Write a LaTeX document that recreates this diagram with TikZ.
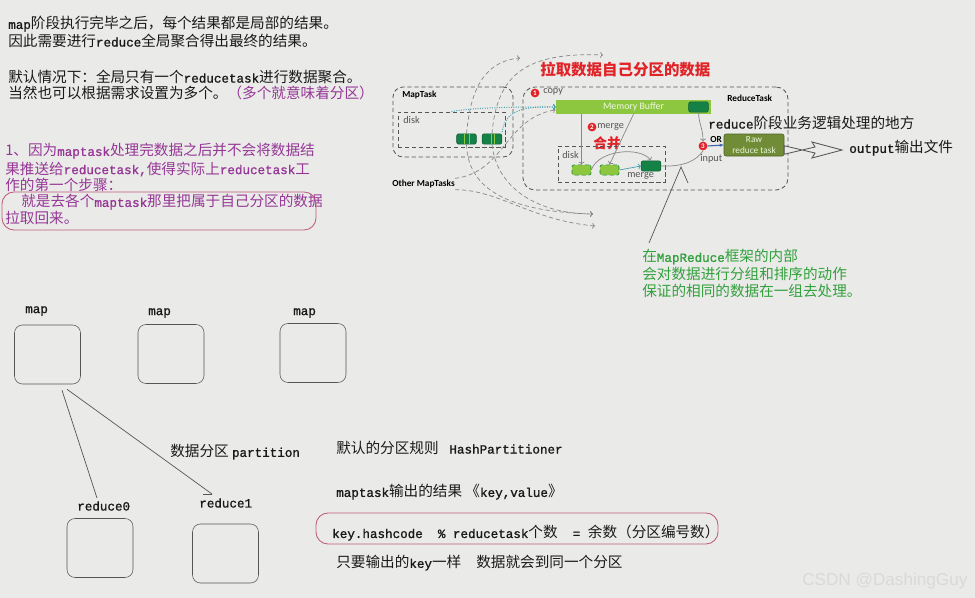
\documentclass[tikz,border=0pt]{standalone}
\usepackage{fontspec}
\setmainfont{Noto Sans CJK SC}
\setmonofont{Liberation Mono}[Scale=0.86, FakeBold=1.2]
\newfontfamily\figfont{Carlito}
\newfontfamily\markfont{Liberation Sans}
\usetikzlibrary{arrows.meta}
\definecolor{bgcol}{RGB}{234,235,233}
\definecolor{inkcol}{RGB}{25,25,25}
\definecolor{purp}{RGB}{150,55,150}
\definecolor{loopcol}{RGB}{190,90,125}
\definecolor{redcol}{RGB}{225,35,40}
\definecolor{greentxt}{RGB}{50,160,60}
\definecolor{lightgreen}{RGB}{141,198,63}
\definecolor{darkgreen}{RGB}{20,130,70}
\definecolor{olive}{RGB}{112,140,55}
\definecolor{boxgray}{RGB}{85,85,85}
\definecolor{curvegray}{RGB}{135,135,135}
\definecolor{tealcol}{RGB}{70,160,180}
\definecolor{bluecol}{RGB}{60,100,170}
\newcommand{\tword}[1]{{\ttfamily #1}}
\begin{document}
\begin{tikzpicture}[x=0.25mm,y=-0.25mm]
    \tikzset{txt/.style = {anchor=west, inner sep=0pt, text=inkcol, font=\fontsize{10.4}{13}\selectfont}}
    \tikzset{ptxt/.style = {txt, text=purp}}
    \tikzset{gtxt/.style = {txt, text=greentxt}}
    \tikzset{small/.style = {anchor=west, inner sep=0pt, text=boxgray, font=\figfont\fontsize{7.3}{8}\selectfont}}
    \tikzset{bsmall/.style = {small, text=black, font=\figfont\fontsize{6.6}{8}\selectfont\bfseries}}
    \tikzset{dbox/.style = {draw=boxgray, densely dashed, line width=0.6pt, inner sep=0pt}}
    \tikzset{mapbox/.style = {draw=boxgray, rounded corners=2mm, inner sep=0pt, minimum width=16.5mm, minimum height=14.75mm}}
    \tikzset{darkblk/.style = {draw=darkgreen!70!black, fill=darkgreen, rounded corners=0.5mm, inner sep=0pt, minimum width=4.9mm, minimum height=2.6mm}}
    \tikzset{lightblk/.style = {draw=darkgreen, densely dashed, fill=lightgreen, rounded corners=0.5mm, inner sep=0pt, minimum width=4.75mm, minimum height=2.6mm}}
    \tikzset{badge/.style = {circle, fill=redcol, text=white, inner sep=0pt, minimum size=2.2mm, font=\figfont\fontsize{5}{5}\selectfont\bfseries}}
    \tikzset{pull/.style = {densely dashed, curvegray, line width=0.5pt, -{To[length=2pt]}}}
    \tikzset{tealpull/.style = {densely dotted, tealcol, line width=0.7pt, -{To[length=2pt]}}}
    \tikzset{inner/.style = {curvegray, line width=0.5pt, -{To[length=2pt]}}}
    \tikzset{thinline/.style = {draw=boxgray, line width=0.5pt}}
    % background
    \fill[bgcol] (0,0) rectangle (975,598);
    \useasboundingbox (0,0) rectangle (975,598);
    % notes top left
    \node[txt] (t1) at (8,24) {\tword{map}阶段执行完毕之后，每个结果都是局部的结果。};
    \node[txt] (t2) at (8,41) {因此需要进行\tword{reduce}全局聚合得出最终的结果。};
    \node[txt] (t3) at (8,77) {默认情况下：全局只有一个\tword{reducetask}进行数据聚合。};
    \node[txt] (t4) at (8,93) {当然也可以根据需求设置为多个。{\color{purp}（多个就意味着分区）}};
    \node[ptxt] (p1) at (5,151) {1、因为\tword{maptask}处理完数据之后并不会将数据结};
    \node[ptxt] (p2) at (5,169) {果推送给\tword{reducetask,}使得实际上\tword{reducetask}工};
    \node[ptxt] (p3) at (5,185) {作的第一个步骤：};
    \node[ptxt] (p4) at (21,202) {就是去各个\tword{maptask}那里把属于自己分区的数据};
    \node[ptxt] (p5) at (5,218) {拉取回来。};
    \draw[loopcol, line width=0.6pt, rounded corners=3mm] (2,192) rectangle (316,230);
    % maptask side
    \node[dbox, rounded corners=2.5mm, minimum width=30mm, minimum height=17.5mm] (mt) at (453,122) {};
    \node[dbox, minimum width=26.75mm, minimum height=8.75mm] (md) at (451.5,129.5) {};
    \node[bsmall] (mtl) at (402,95) {MapTask};
    \node[small] (mdl) at (403,120) {disk};
    \node[darkblk] (b1) at (466.5,139) {};
    \node[darkblk] (b2) at (492,139) {};
    \draw[lightgreen, line width=0.4pt] ([xshift=-0.6mm]b1.north) -- ([xshift=-0.6mm]b1.south);
    \draw[lightgreen, line width=0.4pt] ([xshift=0.7mm]b1.north) -- ([xshift=0.7mm]b1.south);
    \draw[lightgreen, line width=0.4pt] ([xshift=-0.3mm]b2.north) -- ([xshift=-0.3mm]b2.south);
    \draw[lightgreen, line width=0.4pt] ([xshift=0.6mm]b2.north) -- ([xshift=0.6mm]b2.south);
    \node[bsmall] (om) at (392,184) {Other MapTasks};
    % reducetask side
    \node[dbox, rounded corners=3mm, minimum width=66.25mm, minimum height=25.75mm] (rt) at (655.5,138.5) {};
    \node[bsmall] (rtl) at (727,98) {ReduceTask};
    \node[fill=lightgreen, inner sep=0pt, minimum width=38.75mm, minimum height=3.5mm,
          text=white!88!lightgreen, font=\figfont\fontsize{7}{8}\selectfont] (mb) at (633.5,107) {Memory Buffer};
    \node[darkblk] (mbd) at (698.5,107) {};
    \node[badge] (c1) at (535,93) {1};
    \node[small] (cl) at (543,92) {copy};
    \node[badge] (c2) at (592,127) {2};
    \node[small] (ml) at (597,127) {merge};
    \node[anchor=west, inner sep=0pt, text=redcol, font=\fontsize{9.8}{11}\selectfont\bfseries] (hb) at (593,143) {合并};
    \node[dbox, minimum width=26.75mm, minimum height=9mm] (rd) at (611.5,164) {};
    \node[small] (rdl) at (562,155) {disk};
    \node[lightblk] (s1) at (581.5,170) {};
    \node[lightblk] (s2) at (609.5,170) {};
    \node[darkblk] (d1) at (651,166) {};
    \node[small] (ml2) at (627,176) {merge};
    \node[badge] (c3) at (703,146) {3};
    \node[bsmall] (orl) at (710,139) {OR};
    \node[small] (inl) at (700,159) {input};
    \node[draw=olive!70!black, fill=olive, rounded corners=0.5mm, inner sep=0pt, minimum width=15mm, minimum height=5.5mm,
          align=center, text=white!80!lightgreen, font=\figfont\fontsize{6.6}{7.4}\selectfont] (raw) at (754,145) {Raw\\reduce task};
    % pull curves
    \coordinate (top) at (603,55);
    \coordinate (bot1) at (593,214);
    \coordinate (bot2) at (595,226);
    \draw[pull] (b2.north) .. controls (497,75) and (525,52) .. (top);
    \draw[pull] (b1.north) .. controls (470,100) and (478,62) .. (520,58);
    \draw[pull] ([yshift=4pt]om.east) .. controls (505,172) and (505,118) .. ([yshift=-2pt]mb.west);
    \draw[pull] (b1.south) .. controls (468,195) and (520,212) .. (bot1);
    \draw[pull] ([yshift=-4pt]om.east) .. controls (500,190) and (530,220) .. (bot2);
    \draw[pull] (b2.south) .. controls (497,190) and (540,214) .. (bot1);
    \draw[tealpull] (md.north) .. controls (470,108) and (500,107) .. (mb.west);
    \draw[tealpull] ([yshift=1pt]b2.north east) .. controls (505,112) and (520,106) .. (mb.west);
    % merge connectors
    \draw[inner] (s1.north |- mb.south) -- (s1.north);
    \draw[inner] (mb.south) -- (s2.north);
    \draw[inner] (s1.east) .. controls (598,150) and (640,146) .. (d1.north);
    \draw[inner, tealcol] (s2.east) -- (d1.west);
    \draw[curvegray, line width=0.5pt] (d1.east) .. controls (685,167) and (697,160) .. (c3.south);
    \draw[inner] (mbd.south) .. controls (699,125) and (703,128) .. (c3.north);
    \draw[bluecol, line width=0.8pt, -{Stealth[length=3pt]}] (c3.east) -- (raw.west);
    % output
    \node[txt] (rdesc) at (708,123) {\tword{reduce}阶段业务逻辑处理的地方};
    \node[txt] (out) at (849,148) {\tword{output}输出文件};
    \coordinate (otip) at ([shift={(-7,2)}]out.west);
    \draw[boxgray, line width=0.6pt, fill=bgcol] ([yshift=-3]raw.east |- otip) -- (815,147) -- (812,142) -- (otip)
        -- (812,158) -- (815,153) -- ([yshift=3]raw.east |- otip) -- cycle;
    \node[anchor=west, inner sep=0pt, text=redcol, font=\fontsize{11}{13}\selectfont\bfseries] (pt) at (540,70) {拉取数据自己分区的数据};
    % green note
    \node[gtxt] (g1) at (642,257) {在\tword{MapReduce}框架的内部};
    \node[gtxt] (g2) at (642,274) {会对数据进行分组和排序的动作};
    \node[gtxt] (g3) at (642,291) {保证的相同的数据在一组去处理。};
    \coordinate (tip) at (681,167);
    \draw[thinline] ([shift={(7,-14)}]g1.west) -- (tip) -- (688,183);
    % map and reduce boxes
    \node[txt] (lm1) at (25,311) {\tword{map}};
    \node[txt] (lm2) at (148,313) {\tword{map}};
    \node[txt] (lm3) at (293,313) {\tword{map}};
    \node[mapbox] (m1) at (47.5,354.5) {};
    \node[mapbox] (m2) at (171,354) {};
    \node[mapbox] (m3) at (313,353) {};
    \node[txt] (lr0) at (77,506) {\tword{reduce0}};
    \node[txt] (lr1) at (199,503) {\tword{reduce1}};
    \node[mapbox] (r0) at (100,548) {};
    \node[mapbox] (r1) at (225.5,553.5) {};
    \coordinate (e0) at (97,498);
    \coordinate (e1) at (212,494);
    \draw[thinline] ([shift={(14.5,6)}]m1.south) -- (e0);
    \draw[thinline] ([shift={(19.5,5)}]m1.south) -- (e1);
    \draw[thinline] (e1) -- ++(-9,0);
    \node[txt] (part) at (170,452) {数据分区 \tword{partition}};
    % partition rule notes
    \node[txt] (n1) at (336,448) {默认的分区规则 \tword{ HashPartitioner}};
    \node[txt] (n2) at (336,492) {\tword{maptask}输出的结果 《\tword{key,value}》};
    \node[txt] (n3) at (332,533) {\tword{key.hashcode \ \% reducetask}个数\tword{ \ = }余数（分区编号数）};
    \node[txt] (n4) at (336,563) {只要输出的\tword{key}一样\tword{ \ }数据就会到同一个分区};
    \draw[loopcol, line width=0.6pt, rounded corners=3mm] (316,513) rectangle (718,544);
    % watermark
    \node[anchor=west, inner sep=0pt, text=white!70!gray, font=\markfont\fontsize{12.2}{14}\selectfont] (wm) at (802,581) {CSDN @DashingGuy};
\end{tikzpicture}
\end{document}
